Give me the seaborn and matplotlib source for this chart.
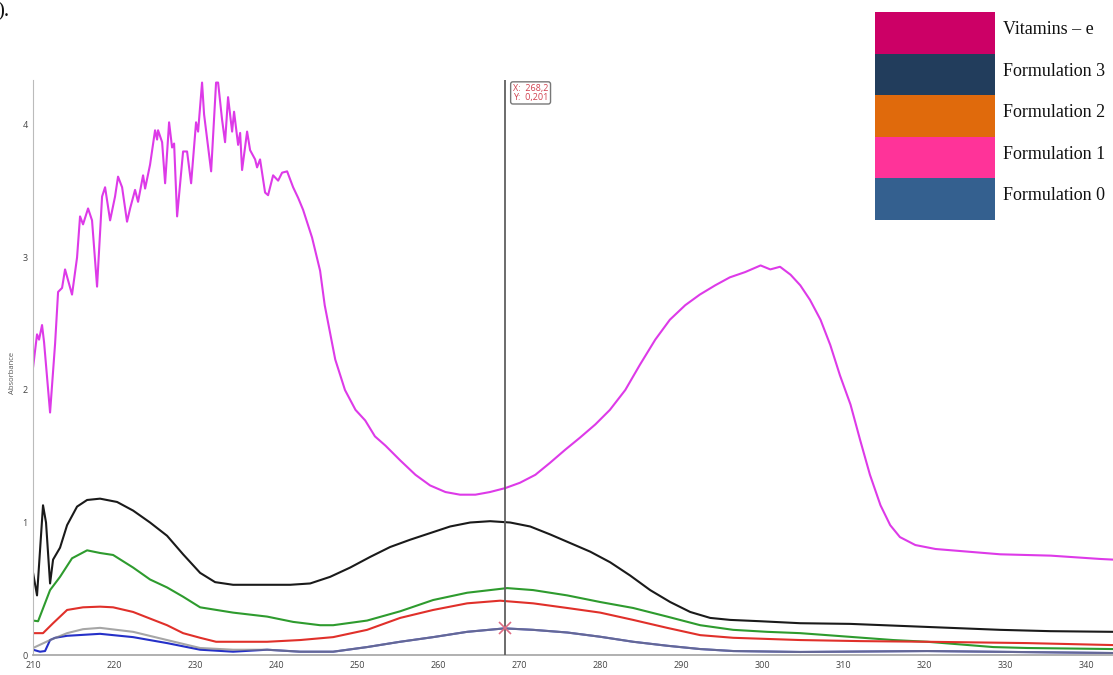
import matplotlib
matplotlib.use("Agg")
import matplotlib.pyplot as plt
import seaborn as sns
from matplotlib.patches import Rectangle

# spectra (wavelength nm, absorbance)
wl_magenta = [210.0, 210.49, 210.74, 211.11, 211.36, 212.10, 212.72, 213.09, 213.58, 213.95,
              214.81, 215.43, 215.80, 216.17, 216.79, 217.28, 217.90, 218.52, 218.89, 219.51,
              220.12, 220.49, 220.99, 221.60, 221.98, 222.59, 222.96, 223.58, 223.83, 224.44,
              225.06, 225.31, 225.43, 225.93, 226.30, 226.79, 227.16, 227.41, 227.78, 228.52,
              229.01, 229.51, 230.12, 230.37, 230.86, 231.11, 231.98, 232.59, 232.84, 233.33,
              233.70, 234.07, 234.57, 234.81, 235.31, 235.56, 235.80, 236.42, 236.79, 237.41,
              237.65, 238.02, 238.64, 239.01, 239.63, 240.25, 240.74, 241.36, 242.10, 242.72,
              243.33, 244.44, 245.43, 246.0, 247.3, 248.5, 249.8, 251.0, 252.2, 253.5,
              255.3, 257.2, 259.0, 260.9, 262.7, 264.6, 266.4, 268.3, 270.1, 272.0,
              273.8, 275.7, 277.5, 279.4, 281.2, 283.1, 284.9, 286.8, 288.6, 290.5,
              292.3, 294.2, 296.0, 297.9, 299.8, 301.0, 302.2, 303.5, 304.7, 305.9,
              307.2, 308.4, 309.6, 310.9, 312.1, 313.3, 314.6, 315.8, 317.0, 318.9,
              321.4, 324.4, 329.4, 335.6, 341.7, 343.3]
abs_magenta = [2.17, 2.42, 2.38, 2.49, 2.36, 1.83, 2.35, 2.74, 2.77, 2.91,
               2.72, 3.00, 3.31, 3.25, 3.37, 3.28, 2.78, 3.46, 3.53, 3.28,
               3.46, 3.61, 3.53, 3.27, 3.37, 3.51, 3.42, 3.62, 3.52, 3.70,
               3.96, 3.89, 3.96, 3.87, 3.56, 4.02, 3.83, 3.86, 3.31, 3.80,
               3.80, 3.56, 4.02, 3.95, 4.32, 4.08, 3.65, 4.32, 4.32, 4.04,
               3.87, 4.21, 3.95, 4.10, 3.85, 3.94, 3.66, 3.95, 3.81, 3.74,
               3.68, 3.74, 3.49, 3.47, 3.62, 3.58, 3.64, 3.65, 3.53, 3.45,
               3.36, 3.15, 2.90, 2.64, 2.23, 2.00, 1.85, 1.77, 1.65, 1.58,
               1.47, 1.36, 1.28, 1.23, 1.21, 1.21, 1.23, 1.26, 1.30, 1.36,
               1.45, 1.55, 1.64, 1.74, 1.85, 2.00, 2.19, 2.38, 2.53, 2.64,
               2.72, 2.79, 2.85, 2.89, 2.94, 2.91, 2.93, 2.87, 2.79, 2.68,
               2.53, 2.34, 2.11, 1.89, 1.62, 1.36, 1.13, 0.98, 0.89, 0.83,
               0.80, 0.785, 0.76, 0.75, 0.725, 0.72]

wl_black = [210.0, 210.49, 211.23, 211.60, 212.10, 212.47, 213.33, 214.20, 215.43, 216.67,
            218.27, 220.37, 222.35, 224.44, 226.54, 228.52, 230.62, 232.47, 234.69, 238.02,
            241.73, 244.20, 246.67, 249.14, 251.60, 254.07, 256.54, 259.01, 261.48, 263.95,
            266.42, 268.89, 271.36, 273.83, 276.30, 278.77, 281.23, 283.70, 286.17, 288.64,
            291.11, 293.58, 296.05, 299.75, 304.69, 310.86, 317.04, 323.21, 329.38, 335.56,
            343.33]
abs_black = [0.62, 0.45, 1.13, 1.00, 0.54, 0.72, 0.81, 0.98, 1.12, 1.17,
             1.18, 1.155, 1.09, 1.00, 0.90, 0.76, 0.62, 0.55, 0.53, 0.53,
             0.53, 0.54, 0.59, 0.66, 0.74, 0.815, 0.87, 0.92, 0.97, 1.00,
             1.01, 1.00, 0.97, 0.91, 0.845, 0.78, 0.70, 0.60, 0.49, 0.40,
             0.325, 0.28, 0.265, 0.255, 0.24, 0.235, 0.22, 0.205, 0.19, 0.18,
             0.175]

wl_green = [210.0, 210.62, 212.10, 213.33, 214.81, 216.67, 218.27, 219.88, 222.35, 224.44,
            226.54, 228.52, 230.62, 234.69, 238.89, 242.10, 245.43, 247.04, 251.23, 255.31,
            259.38, 263.58, 268.52, 271.73, 275.93, 280.0, 284.07, 288.27, 292.35, 296.42,
            300.62, 304.69, 308.02, 316.17, 320.37, 328.52, 332.72, 343.33]
abs_green = [0.26, 0.255, 0.49, 0.59, 0.73, 0.79, 0.77, 0.755, 0.66, 0.57,
             0.51, 0.44, 0.36, 0.32, 0.29, 0.25, 0.225, 0.225, 0.26, 0.33,
             0.415, 0.47, 0.505, 0.49, 0.45, 0.40, 0.355, 0.29, 0.225, 0.19,
             0.175, 0.165, 0.15, 0.113, 0.10, 0.06, 0.053, 0.045]

wl_red = [210.0, 211.23, 212.47, 214.20, 216.17, 218.27, 219.88, 222.35, 224.44, 226.54,
          228.52, 230.62, 232.59, 234.69, 238.89, 242.96, 247.04, 251.23, 255.31, 259.38,
          263.58, 267.65, 271.73, 275.93, 280.0, 284.07, 288.27, 292.35, 296.42, 304.69,
          312.1, 320.37, 332.72, 343.33]
abs_red = [0.165, 0.165, 0.24, 0.34, 0.36, 0.365, 0.36, 0.325, 0.275, 0.225,
           0.165, 0.13, 0.10, 0.10, 0.10, 0.113, 0.135, 0.19, 0.28, 0.34,
           0.39, 0.41, 0.39, 0.355, 0.32, 0.265, 0.205, 0.15, 0.13, 0.113,
           0.105, 0.10, 0.09, 0.075]

wl_blue = [210.0, 210.86, 211.48, 212.10, 212.72, 214.20, 218.27, 222.35, 226.54, 230.62,
           234.69, 238.89, 242.96, 247.04, 251.23, 255.31, 259.38, 263.58, 268.2, 271.73,
           275.93, 280.0, 284.07, 288.27, 292.35, 296.42, 304.69, 320.37, 343.33]
abs_blue = [0.04, 0.025, 0.03, 0.113, 0.13, 0.145, 0.16, 0.135, 0.09, 0.04,
            0.025, 0.04, 0.025, 0.025, 0.06, 0.10, 0.135, 0.175, 0.201, 0.19,
            0.17, 0.138, 0.10, 0.07, 0.045, 0.03, 0.023, 0.03, 0.015]

wl_grey = [210.0, 212.10, 214.20, 216.17, 218.27, 222.35, 226.54, 230.62, 234.69, 238.89,
           242.96, 247.04, 251.23, 255.31, 259.38, 263.58, 268.2, 271.73, 275.93, 280.0,
           284.07, 288.27, 292.35, 296.42, 304.69, 320.37, 343.33]
abs_grey = [0.053, 0.113, 0.165, 0.195, 0.205, 0.175, 0.113, 0.053, 0.04, 0.04,
            0.025, 0.025, 0.06, 0.10, 0.135, 0.175, 0.201, 0.19, 0.17, 0.138,
            0.10, 0.07, 0.045, 0.03, 0.023, 0.03, 0.015]

cursor_x = 268.2
cursor_y = 0.201

legend_labels = ["Vitamins \u2013 e", "Formulation 3", "Formulation 2", "Formulation 1", "Formulation 0"]
legend_colors = ["#CC0066", "#223D5C", "#E06A0C", "#FF3399", "#34608F"]

sns.set_style("white")
plt.rcParams["font.family"] = ["Open Sans", "DejaVu Sans"]

fig = plt.figure(figsize=(11.13, 6.75), dpi=100)
ax = fig.add_axes([0.0297, 0.0296, 0.9703, 0.852])

lw = 1.5
sns.lineplot(x=wl_magenta, y=abs_magenta, color="#DD3AE8", linewidth=lw, ax=ax)
sns.lineplot(x=wl_black, y=abs_black, color="#1a1a1a", linewidth=lw, ax=ax)
sns.lineplot(x=wl_green, y=abs_green, color="#2E9B2E", linewidth=lw, ax=ax)
sns.lineplot(x=wl_red, y=abs_red, color="#E0302A", linewidth=lw, ax=ax)
sns.lineplot(x=wl_blue, y=abs_blue, color="#2530C8", linewidth=lw, ax=ax)
sns.lineplot(x=wl_grey, y=abs_grey, color="#808080", linewidth=lw, alpha=0.7, ax=ax)

ax.set_xlim(210, 343.3)
ax.set_ylim(0, 4.34)

# data cursor
ax.axvline(cursor_x, color="#606060", linewidth=1.3, zorder=5)
ax.plot([cursor_x], [cursor_y], marker="x", markersize=9, color="#E06C84",
        markeredgewidth=1.2, zorder=6)
ax.annotate(f"X:  {cursor_x:.1f}".replace(".", ",") + "\n" + f"Y:  {cursor_y:.3f}".replace(".", ","),
            xy=(cursor_x, 4.34), xytext=(6, -3), textcoords="offset points",
            ha="left", va="top", fontsize=6.5, color="#D0404E", linespacing=0.95,
            bbox=dict(boxstyle="round,pad=0.25", fc="white", ec="#777777", lw=1.0))

ax.set_xticks(range(210, 341, 10))
ax.set_yticks([0, 1, 2, 3, 4])
ax.tick_params(axis="both", labelsize=6.5, labelcolor="#444444", color="#999999",
               length=3, width=0.8, direction="out", pad=1)
ax.set_xlabel("")
ax.set_ylabel("Absorbance", fontsize=5.5, color="#555555")
ax.yaxis.set_label_coords(-0.016, 0.49)

for side in ["top", "right"]:
    ax.spines[side].set_visible(False)
ax.spines["left"].set_color("#BBBBBB")
ax.spines["bottom"].set_color("#AAAAAA")
ax.spines["bottom"].set_linewidth(1.3)

# pasted legend block at top right
row_h = 41.6 / 675
x0 = 875 / 1113
w = 120 / 1113
top = 1 - 12 / 675
for i, (lab, col) in enumerate(zip(legend_labels, legend_colors)):
    y0 = top - (i + 1) * row_h
    fig.add_artist(Rectangle((x0, y0), w, row_h, transform=fig.transFigure,
                             facecolor=col, edgecolor="none"))
    fig.text(1003 / 1113, y0 + row_h * 0.58, lab, fontsize=13, va="center", ha="left",
             family=["Liberation Serif", "DejaVu Serif"], color="#111111")

fig.text(-0.002, 1 - 16 / 675, ").", fontsize=15, va="baseline", ha="left",
         family=["Liberation Serif", "DejaVu Serif"], color="#111111")

fig.savefig("out.png", dpi=100)
